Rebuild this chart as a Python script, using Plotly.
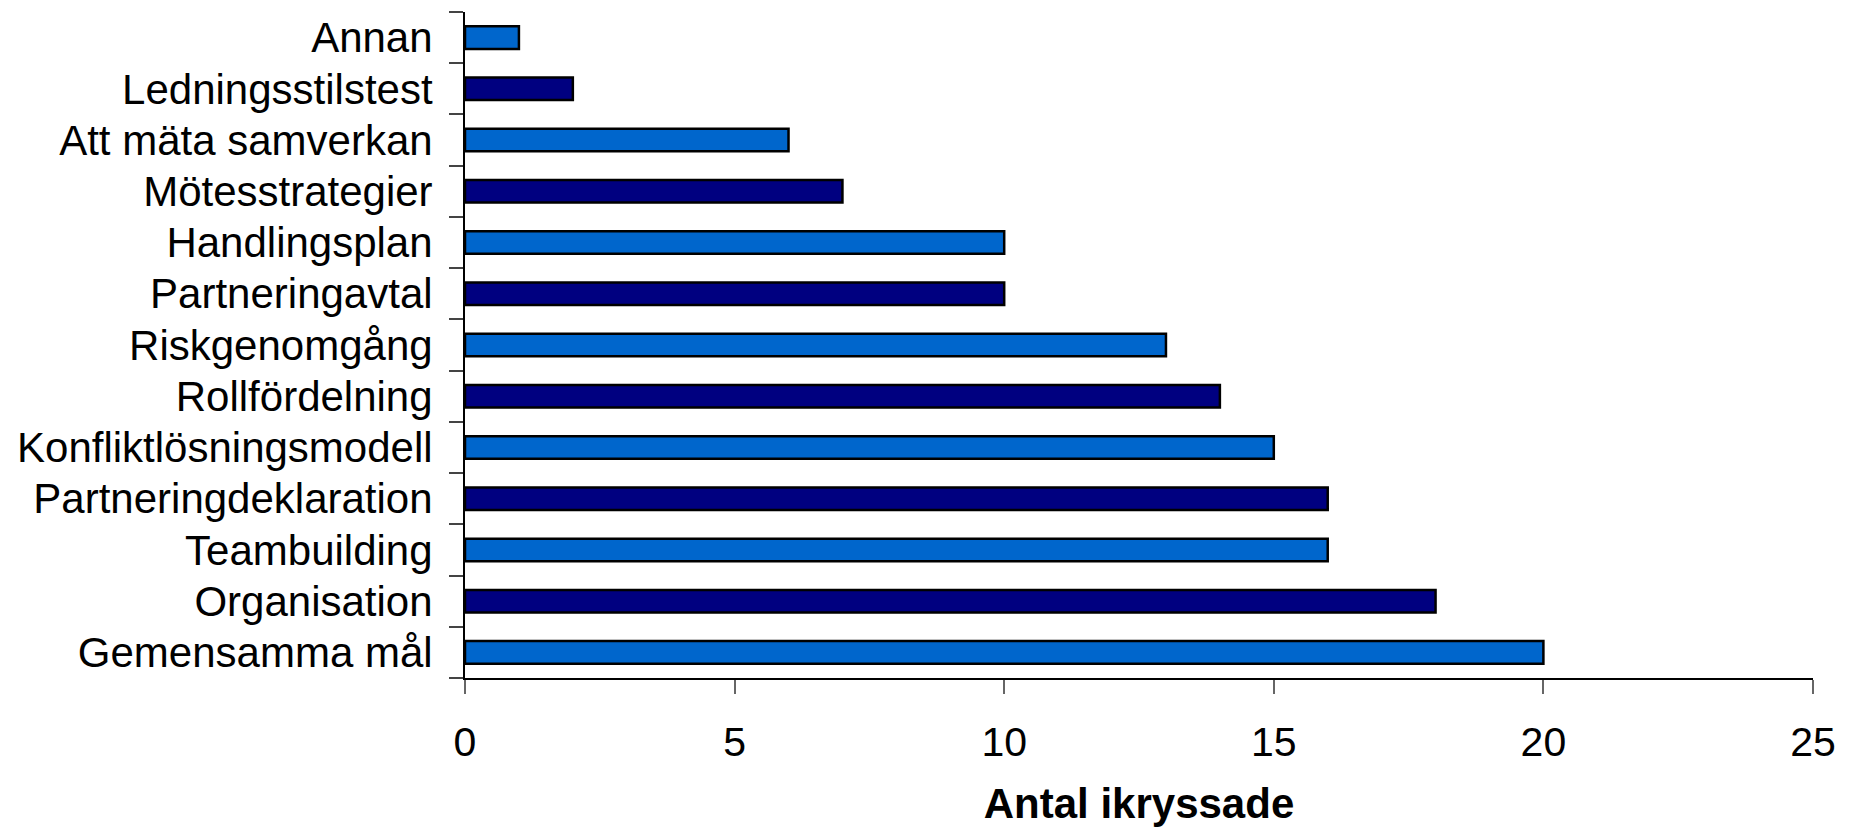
import plotly.graph_objects as go

categories = [
    "Gemensamma mål", "Organisation", "Teambuilding", "Partneringdeklaration",
    "Konfliktlösningsmodell", "Rollfördelning", "Riskgenomgång", "Partneringavtal",
    "Handlingsplan", "Mötesstrategier", "Att mäta samverkan", "Ledningsstilstest", "Annan",
]
values = [20, 18, 16, 16, 15, 14, 13, 10, 10, 7, 6, 2, 1]
x_ticks = [0, 5, 10, 15, 20, 25]
x_title = "Antal ikryssade"

LIGHT = "#0066CC"
DARK = "#000080"
bar_colors = [LIGHT if i % 2 == 0 else DARK for i in range(len(categories))]

FONT = "Liberation Sans, Arial, sans-serif"

fig = go.Figure(
    go.Bar(
        x=values,
        y=categories,
        orientation="h",
        marker=dict(color=bar_colors, line=dict(color="black", width=2.5)),
        width=0.44,
    )
)

# page body has an 8px default margin; compensate so the plot lands where the reference has it
fig.update_layout(
    width=1838,
    height=819,
    margin=dict(l=457, r=33, t=4, b=149),
    paper_bgcolor="white",
    plot_bgcolor="white",
    showlegend=False,
    font=dict(family=FONT, size=42, color="black"),
)

fig.update_xaxes(
    range=[0, 25],
    tickmode="array",
    tickvals=x_ticks,
    ticktext=[str(v) for v in x_ticks],
    showgrid=False,
    zeroline=False,
    showline=True,
    linecolor="black",
    linewidth=2,
    ticks="outside",
    ticklen=14,
    tickwidth=1.5,
    tickcolor="#666666",
    tickfont=dict(family=FONT, size=41),
    ticklabelstandoff=13,
    automargin=False,
    title=dict(text="<b>" + x_title + "</b>", font=dict(family=FONT, size=42), standoff=40),
)

fig.update_yaxes(
    type="category",
    categoryorder="array",
    categoryarray=categories,
    tickmode="array",
    tickvals=categories,
    ticktext=categories,
    range=[-0.5, len(categories) - 0.5],
    tickson="boundaries",
    showgrid=False,
    zeroline=False,
    showline=True,
    linecolor="black",
    linewidth=2,
    ticks="outside",
    ticklen=14,
    tickwidth=1.5,
    tickcolor="#444444",
    tickfont=dict(family=FONT, size=42),
    ticklabelstandoff=22,
    automargin=False,
)

fig.write_html("out.html")
